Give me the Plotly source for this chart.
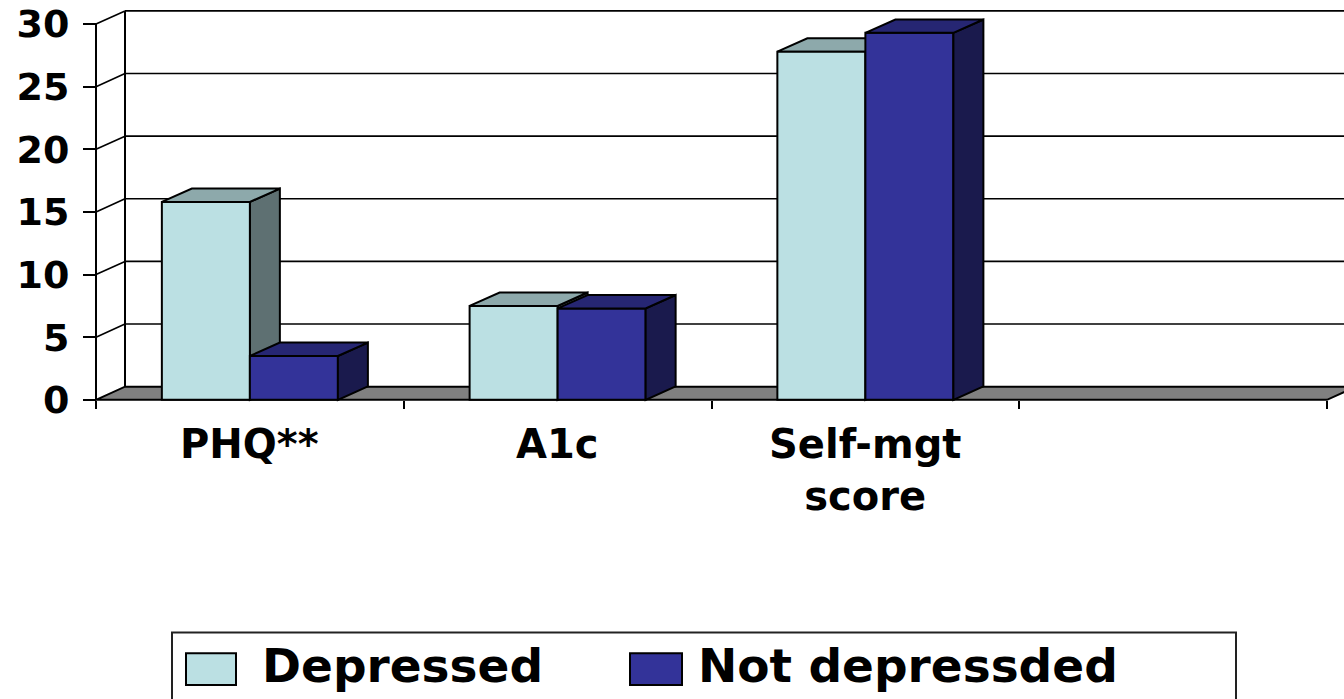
import plotly.graph_objects as go

# ---- data -------------------------------------------------------------
categories = ["PHQ**", "A1c", "Self-mgt score", ""]
depressed = [15.8, 7.5, 27.8]
not_depressed = [3.5, 7.3, 29.3]
series_names = ["Depressed", "Not depressded"]
y_ticks = [0, 5, 10, 15, 20, 25, 30]

# ---- styling ----------------------------------------------------------
W, H = 1344, 699
FONT = "DejaVu Sans"

front_colors = ["#BBE0E3", "#333399"]
top_colors = ["#8DA9AB", "#262673"]
side_colors = ["#5E7072", "#1A1A4D"]

# front plane geometry (pixels)
X0_PX, CAT_PX = 96.0, 307.75      # x=0 position and width of one category
Y0_PX, UNIT_PX = 403.3, 12.633    # y=0 position and pixels per unit
PLOT_BOTTOM_PX = 420.0

BAR_GAP = 0.428
bar_w = (1 - BAR_GAP) / 2

# depth of the 3-D box, converted to data units
WALL_DX, WALL_DY = 29.0 / CAT_PX, 13.3 / UNIT_PX
BAR_DX, BAR_DY = 30.0 / CAT_PX, 13.5 / UNIT_PX

n_cat = len(categories)
x_centers = [i + 0.5 for i in range(len(depressed))]
series_vals = [depressed, not_depressed]


def px_x(px):
    return px / W


def px_y(py):
    return 1 - py / H


def poly(pts):
    return "M " + " L ".join(f"{x:.5f},{y:.5f}" for x, y in pts) + " Z"


fig = go.Figure()

for name, vals, col in zip(series_names, series_vals, front_colors):
    fig.add_trace(go.Bar(
        x=x_centers, y=vals, name=name,
        marker=dict(color=col, line=dict(color="black", width=2)),
        showlegend=False,
    ))

shapes = []
line_k = dict(color="black", width=2)

# floor
x_end = n_cat
shapes.append(dict(
    type="path", xref="x", yref="y", layer="below",
    path=poly([(0, 0), (x_end, 0), (x_end + WALL_DX, WALL_DY), (WALL_DX, WALL_DY)]),
    fillcolor="#808080", line=line_k,
))

# back wall gridlines, side-wall slants, back wall edge
for v in y_ticks:
    if v > 0:
        shapes.append(dict(type="line", xref="x", yref="y", layer="below",
                           x0=WALL_DX, y0=v + WALL_DY, x1=x_end + WALL_DX, y1=v + WALL_DY,
                           line=dict(color="black", width=1.6)))
        shapes.append(dict(type="line", xref="x", yref="y", layer="below",
                           x0=0, y0=v, x1=WALL_DX, y1=v + WALL_DY,
                           line=dict(color="black", width=1.6)))
shapes.append(dict(type="line", xref="x", yref="y", layer="below",
                   x0=WALL_DX, y0=WALL_DY, x1=WALL_DX, y1=y_ticks[-1] + WALL_DY,
                   line=line_k))
# front value axis
shapes.append(dict(type="line", xref="x", yref="y", layer="below",
                   x0=0, y0=0, x1=0, y1=y_ticks[-1], line=line_k))

# top and side faces of each column
for k, vals in enumerate(series_vals):
    layer = "below" if k == 0 else "above"
    for c, v in zip(x_centers, vals):
        left = c - bar_w + k * bar_w
        right = left + bar_w
        top = [(left, v), (right, v), (right + BAR_DX, v + BAR_DY), (left + BAR_DX, v + BAR_DY)]
        side = [(right, 0), (right, v), (right + BAR_DX, v + BAR_DY), (right + BAR_DX, BAR_DY)]
        shapes.append(dict(type="path", xref="x", yref="y", layer=layer,
                           path=poly(side), fillcolor=side_colors[k], line=line_k))
        shapes.append(dict(type="path", xref="x", yref="y", layer=layer,
                           path=poly(top), fillcolor=top_colors[k], line=line_k))

# legend box and swatches
shapes.append(dict(type="rect", xref="paper", yref="paper",
                   x0=px_x(172), x1=px_x(1236), y0=px_y(706), y1=px_y(638),
                   line=dict(color="#222222", width=2), fillcolor="white"))
swatch_px = [(186, 236), (630, 682)]
for (sx0, sx1), col in zip(swatch_px, front_colors):
    shapes.append(dict(type="rect", xref="paper", yref="paper",
                       x0=px_x(sx0), x1=px_x(sx1), y0=px_y(691), y1=px_y(659),
                       line=line_k, fillcolor=col))

annotations = []
for i, cat in enumerate(categories):
    if not cat:
        continue
    annotations.append(dict(
        x=i + 0.5, xref="x", y=px_y(423), yref="paper",
        text=cat.replace(" ", "<br>"), showarrow=False,
        xanchor="center", yanchor="top",
        font=dict(family=FONT, size=40, color="black", weight="bold"),
    ))

text_px = [260, 696]
for name, tx in zip(series_names, text_px):
    annotations.append(dict(
        x=px_x(tx), xref="paper", y=px_y(671), yref="paper",
        text=name, showarrow=False, xanchor="left", yanchor="middle",
        font=dict(family=FONT, size=47, color="black", weight="bold"),
    ))

fig.update_layout(
    width=W, height=H,
    margin=dict(l=0, r=0, t=0, b=0),
    paper_bgcolor="white", plot_bgcolor="white",
    barmode="group", bargap=BAR_GAP, bargroupgap=0,
    showlegend=False,
    shapes=shapes, annotations=annotations,
    xaxis=dict(
        domain=[0, 1],
        range=[-X0_PX / CAT_PX, (W - X0_PX) / CAT_PX],
        anchor="free", position=px_y(Y0_PX),
        tickvals=list(range(n_cat + 1)), ticktext=[""] * (n_cat + 1),
        ticks="outside", ticklen=8, tickwidth=2, tickcolor="black",
        showgrid=False, zeroline=False, showline=False,
    ),
    yaxis=dict(
        domain=[px_y(PLOT_BOTTOM_PX), 1],
        range=[-(PLOT_BOTTOM_PX - Y0_PX) / UNIT_PX, Y0_PX / UNIT_PX],
        anchor="free", position=px_x(X0_PX),
        tickvals=y_ticks, ticks="outside", ticklen=13, tickwidth=2, tickcolor="black",
        ticklabelstandoff=6,
        tickfont=dict(family=FONT, size=38, color="black", weight="bold"),
        showgrid=False, zeroline=False, showline=False,
    ),
)

fig.write_html("out.html")
